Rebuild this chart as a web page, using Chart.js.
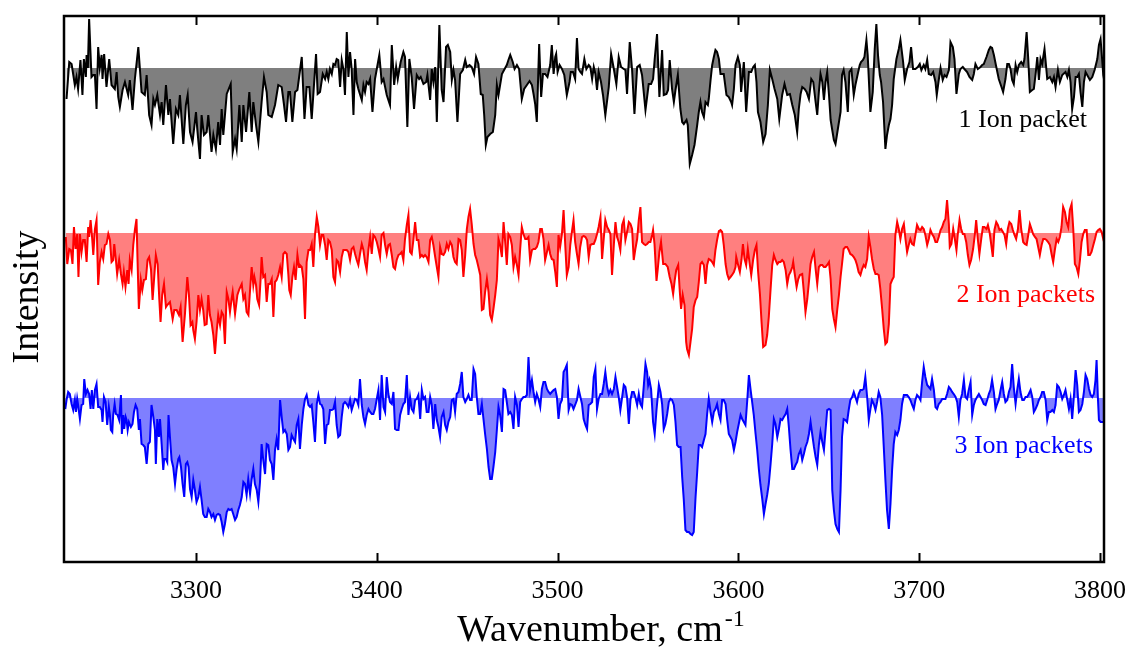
<!DOCTYPE html>
<html>
<head>
<meta charset="utf-8">
<script src="https://cdn.jsdelivr.net/npm/chart.js@4.4.1/dist/chart.umd.min.js"></script>
<style>
html,body{margin:0;padding:0;background:#fff;}
canvas{display:block;}
</style>
</head>
<body>
<canvas id="c" width="1142" height="653"></canvas>
<script>
// ---- data: [wavenumber (cm-1), intensity relative to each trace's own baseline] ----
const black = [
[3228.4,-31],[3229.9,6],[3231.2,4],[3233.0,-17],[3233.9,-9],[3234.8,-21],[3236.1,8],[3237.2,-27],[3238.0,9],[3239.1,-9],[3239.5,13],[3240.2,0],[3240.9,49],[3242.2,-9],[3243.2,-7],[3244.1,-7],[3245.0,-41],[3245.9,21],[3246.8,0],[3247.8,13],[3248.3,-11],[3249.2,14],[3250.5,-19],[3252.0,9],[3253.3,-17],[3255.1,-21],[3256.1,-4],[3257.0,-29],[3257.9,-39],[3259.4,-22],[3260.7,-14],[3262.5,-27],[3263.4,-12],[3264.9,-42],[3266.2,-11],[3268.1,21],[3269.9,-24],[3271.7,-27],[3272.7,-7],[3274.1,-47],[3275.4,-57],[3276.4,-31],[3277.3,-37],[3278.6,-27],[3280.1,-47],[3281.0,-34],[3281.9,-57],[3283.4,-17],[3284.7,-47],[3285.6,-31],[3287.4,-76],[3288.9,-41],[3290.2,-47],[3291.1,-27],[3293.0,-76],[3294.4,-37],[3295.4,-27],[3296.7,-64],[3298.1,-74],[3300.0,-44],[3300.7,-61],[3302.2,-91],[3303.1,-47],[3304.4,-67],[3305.9,-64],[3306.8,-47],[3308.6,-84],[3309.6,-67],[3311.0,-81],[3312.3,-54],[3313.3,-77],[3314.2,-41],[3315.1,-67],[3317.0,-26],[3319.2,-16],[3320.3,-84],[3321.6,-71],[3322.5,-81],[3324.0,-37],[3325.3,-74],[3326.2,-37],[3327.7,-64],[3329.5,-24],[3330.8,-64],[3331.7,-34],[3333.2,-57],[3334.5,-74],[3336.3,-34],[3337.6,-9],[3339.1,-24],[3340.0,-47],[3341.9,-49],[3343.7,-37],[3345.5,-17],[3347.4,-19],[3348.7,-37],[3349.8,-54],[3351.1,-24],[3352.0,-24],[3353.3,-54],[3354.8,-24],[3356.1,-22],[3358.5,11],[3360.0,-51],[3361.2,-19],[3362.7,-19],[3364.0,-51],[3366.4,14],[3367.3,-26],[3368.6,-24],
[3370.1,-6],[3371.4,-11],[3372.3,-4],[3373.2,-11],[3374.1,-1],[3375.1,-6],[3376.0,4],[3376.9,3],[3377.8,9],[3378.7,8],[3379.7,-19],[3380.6,8],[3381.5,-1],[3382.4,-27],[3383.4,36],[3384.3,-9],[3385.2,16],[3386.1,-1],[3387.1,-47],[3388.0,9],[3388.9,-14],[3389.8,-21],[3391.7,-32],[3392.6,-17],[3393.5,-24],[3394.4,-14],[3395.4,-16],[3396.3,-11],[3397.6,-44],[3399.0,-11],[3400.0,-1],[3401.4,13],[3402.7,-14],[3403.7,-11],[3405.5,-27],[3407.3,-37],[3408.3,23],[3409.6,-17],[3410.7,1],[3411.6,-11],[3412.5,-1],[3413.2,6],[3414.7,16],[3415.6,11],[3416.9,-59],[3418.0,9],[3419.3,-9],[3420.6,-41],[3422.1,-7],[3423.4,-11],[3424.3,-9],[3425.8,-16],[3427.3,-14],[3428.0,-7],[3429.5,-32],[3430.4,-1],[3431.3,-14],[3432.3,1],[3433.2,-54],[3434.6,43],[3435.9,-22],[3436.9,-34],[3438.3,21],[3439.3,23],[3440.6,16],[3441.5,-12],[3442.4,-2],[3443.3,-12],[3444.6,-54],[3446.1,-6],[3447.6,-2],[3448.9,8],[3449.8,1],[3451.3,3],[3452.5,1],[3453.8,-6],[3454.9,11],[3456.2,4],[3457.5,-26],[3458.6,-27],[3459.4,-47],[3460.3,-77],[3461.2,-69],[3462.7,-66],[3464.2,-64],[3465.5,-47],[3466.4,-17],[3467.3,-27],[3468.2,-17],[3469.2,-6],[3470.4,-2],[3471.9,3],[3472.8,8],[3473.8,13],[3475.2,6],[3476.2,-1],[3477.5,3],[3478.7,-1],[3480.2,-31],[3481.5,-21],[3483.0,-17],[3484.5,-13],[3485.8,-17],[3486.7,-26],[3487.6,-36],[3488.5,-54],[3489.8,24],[3490.9,-29],[3491.9,-6],[3493.1,-6],[3494.4,-9],[3495.9,3],[3496.8,23],[3497.8,-6],[3498.7,11],[3499.2,14],[3500.0,-4],[3501.1,3],[3502.4,-1],[3503.7,-7],[3505.1,-27],[3506.6,-14],[3507.3,-4],[3508.5,-4],[3509.7,-11],[3510.7,30],[3511.6,-1],
[3512.6,-4],[3513.5,-6],[3514.8,9],[3515.9,-1],[3517.2,3],[3518.1,1],[3519.1,-11],[3520.0,1],[3520.9,-6],[3521.8,-22],[3522.7,-4],[3524.0,-14],[3525.1,-27],[3526.4,-47],[3528.3,-19],[3529.6,14],[3531.1,-1],[3532.5,-16],[3533.8,11],[3535.1,1],[3536.6,-1],[3537.5,-2],[3538.4,-26],[3539.9,26],[3541.2,-2],[3542.5,-46],[3544.0,1],[3545.4,3],[3546.7,-7],[3548.6,-42],[3550.4,-16],[3551.7,-16],[3552.8,-11],[3553.7,9],[3555.0,34],[3556.3,-29],[3557.8,18],[3558.7,-27],[3560.2,-26],[3561.1,-22],[3562.0,8],[3563.3,-21],[3564.3,-34],[3565.2,-22],[3566.5,-7],[3567.9,-41],[3568.9,-54],[3569.8,-56],[3571.3,-52],[3572.0,-57],[3573.1,-96],[3574.4,-87],[3575.7,-77],[3577.2,-57],[3578.1,-44],[3579.0,-34],[3579.9,-44],[3580.9,-49],[3581.8,-34],[3583.1,-37],[3583.6,-31],[3584.6,-12],[3585.5,3],[3586.4,11],[3587.3,18],[3588.2,16],[3589.2,9],[3590.1,-6],[3591.9,-6],[3593.4,-27],[3594.7,-29],[3596.0,-34],[3596.5,-37],[3597.5,-21],[3598.4,3],[3599.7,11],[3600.8,3],[3601.5,-24],[3603.0,6],[3604.3,-44],[3605.8,-4],[3607.1,-4],[3608.2,1],[3609.1,3],[3610.0,-14],[3610.8,-44],[3612.2,-54],[3613.7,-74],[3615.0,-66],[3616.3,-37],[3617.4,-2],[3618.7,-11],[3620.0,-21],[3621.5,-31],[3622.6,-51],[3624.2,-27],[3625.5,-16],[3627.0,-27],[3628.5,-26],[3629.8,-37],[3631.2,-47],[3632.5,-64],[3633.4,-41],[3634.4,-26],[3635.3,-19],[3636.6,-21],[3637.7,-24],[3639.0,-31],[3640.3,-11],[3641.4,-14],[3642.7,-34],[3643.6,-47],[3644.5,-24],[3645.4,-6],[3646.4,-14],[3647.3,-32],[3648.2,-14],[3649.1,-4],[3650.1,-27],[3651.0,-52],[3651.9,-62],[3652.8,-72],[3653.7,-76],[3655.0,-61],[3656.5,-44],
[3657.3,-7],[3658.2,-2],[3659.2,-14],[3660.5,-44],[3661.4,-4],[3662.5,-1],[3663.8,-27],[3664.7,-17],[3666.0,-6],[3667.1,3],[3667.8,6],[3668.9,8],[3669.7,11],[3670.8,28],[3671.5,13],[3673.0,-44],[3674.3,-24],[3675.4,19],[3676.3,44],[3677.2,13],[3678.2,-7],[3678.9,-14],[3680.0,-34],[3681.3,-81],[3682.2,-67],[3683.2,-57],[3684.1,-51],[3685.0,-37],[3685.9,-11],[3687.4,9],[3688.7,19],[3689.6,28],[3691.1,6],[3692.0,-12],[3693.3,-1],[3694.6,6],[3695.5,21],[3696.6,-1],[3697.9,-1],[3699.2,1],[3700.3,4],[3701.2,-2],[3702.5,3],[3703.4,-1],[3704.4,8],[3705.3,-6],[3706.6,-7],[3707.7,-4],[3709.0,-14],[3709.7,-27],[3710.8,-12],[3711.8,0],[3713.0,-12],[3714.0,-7],[3715.1,-9],[3716.4,-2],[3717.3,26],[3718.6,21],[3719.5,9],[3720.6,-26],[3721.9,-6],[3722.8,-1],[3724.1,1],[3725.0,-1],[3726.5,-4],[3727.8,-9],[3729.3,-12],[3730.2,-6],[3731.1,4],[3732.4,-1],[3733.9,1],[3734.8,3],[3735.7,4],[3737.2,11],[3738.5,18],[3739.4,21],[3740.3,20],[3741.3,13],[3742.4,3],[3744.0,-11],[3745.5,-19],[3746.4,-24],[3747.7,-11],[3748.7,4],[3749.6,4],[3750.5,-1],[3751.4,-12],[3752.3,-16],[3753.3,3],[3754.2,-4],[3755.1,3],[3756.4,6],[3757.5,3],[3758.2,9],[3759.4,36],[3760.3,9],[3761.2,-24],[3762.5,-22],[3763.4,-21],[3764.5,-4],[3765.3,11],[3766.2,-12],[3767.1,9],[3768.0,4],[3769.3,19],[3770.8,-11],[3772.3,-9],[3773.6,-14],[3774.5,-9],[3775.4,-19],[3776.7,-2],[3777.8,-14],[3779.1,-7],[3780.9,-4],[3781.9,-9],[3782.8,-2],[3783.7,-14],[3784.6,-41],[3785.6,-29],[3786.5,-9],[3787.4,-9],[3788.3,-6],[3789.2,-24],[3790.2,-39],[3791.1,-14],[3792.0,-4],[3792.9,-7],[3794.4,-12],[3795.7,-9],[3797.0,-2],[3798.5,9],[3799.4,23],[3800.3,29],[3801.2,8],[3801.8,-7],[3802.5,-14]
];

const red = [
[3228.0,-4],[3228.8,-31],[3229.9,-16],[3230.8,-17],[3231.7,-31],[3232.5,6],[3233.4,-16],[3234.3,-1],[3235.0,-44],[3235.8,-1],[3236.7,-19],[3237.6,-7],[3238.5,-7],[3239.5,-29],[3240.4,6],[3240.9,-4],[3241.7,13],[3242.6,-6],[3243.2,-22],[3244.1,4],[3245.0,13],[3245.9,-52],[3246.8,-29],[3247.8,-19],[3248.7,-26],[3249.6,-12],[3250.5,-11],[3251.5,-1],[3252.4,-7],[3253.3,-29],[3254.2,-27],[3254.8,-11],[3255.7,-27],[3256.4,-41],[3257.5,-27],[3258.5,-41],[3259.4,-51],[3260.1,-39],[3261.0,-54],[3262.0,-37],[3262.7,-51],[3263.4,-27],[3264.4,-37],[3265.3,-12],[3266.2,3],[3267.1,14],[3267.7,-29],[3268.4,-76],[3269.5,-47],[3270.3,-57],[3271.2,-47],[3272.3,-46],[3273.2,-27],[3274.1,-24],[3275.1,-36],[3276.0,-67],[3276.9,-44],[3277.8,-22],[3278.8,-31],[3279.7,-66],[3280.4,-89],[3281.3,-62],[3282.3,-51],[3283.4,-74],[3284.1,-72],[3285.6,-69],[3287.1,-86],[3288.0,-77],[3289.3,-77],[3290.6,-82],[3291.5,-74],[3292.6,-109],[3293.9,-81],[3295.2,-44],[3296.1,-62],[3297.0,-92],[3298.0,-89],[3298.5,-97],[3299.4,-106],[3300.3,-89],[3301.3,-62],[3302.2,-77],[3303.1,-66],[3304.0,-77],[3304.8,-92],[3305.9,-91],[3306.8,-62],[3307.7,-82],[3308.6,-89],[3309.6,-102],[3310.5,-121],[3311.4,-99],[3312.3,-82],[3313.3,-92],[3314.2,-79],[3315.1,-82],[3316.0,-111],[3317.0,-59],[3317.9,-66],[3318.8,-79],[3319.7,-66],[3320.3,-59],[3321.6,-81],[3322.9,-62],[3324.0,-56],[3325.3,-51],[3326.2,-66],[3327.1,-62],[3328.0,-79],[3329.0,-82],[3329.9,-57],[3330.8,-34],[3331.7,-52],[3332.3,-44],[3333.2,-52],[3333.9,-66],[3334.9,-72],[3335.8,-44],[3336.3,-24],[3337.2,-44],[3338.2,-42],[3339.1,-69],[3340.0,-51],[3340.9,-51],[3341.9,-46],[3342.8,-84],[3343.7,-49],[3344.6,-47],[3345.5,-42],[3346.5,-34],[3347.4,-44],[3348.3,-21],[3349.2,-19],[3350.2,-21],[3351.1,-42],[3351.6,-57],[3352.4,-62],[3353.3,-44],[3354.2,-34],[3355.1,-47],[3356.1,-22],[3357.0,-34],[3357.5,-32],[3358.5,-34],[3359.4,-46],[3360.3,-86],[3361.2,-29],[3362.2,-17],[3363.1,-17],[3364.0,-11],[3364.9,-34],[3365.8,-2],[3366.8,16],[3367.7,6],[3368.6,-12],
[3369.5,-2],[3370.4,-2],[3371.4,-12],[3372.3,-27],[3373.2,-7],[3374.1,-9],[3375.1,-17],[3376.0,-44],[3376.9,-49],[3377.8,-27],[3378.7,-29],[3379.7,-39],[3380.6,-24],[3381.5,-17],[3382.4,-17],[3383.4,-17],[3384.3,-19],[3385.2,-27],[3386.1,-16],[3387.1,-14],[3388.0,-21],[3388.9,-27],[3389.8,-32],[3390.7,-21],[3391.7,-11],[3392.6,-17],[3393.5,-29],[3394.4,-37],[3395.4,-16],[3396.3,-4],[3397.2,-21],[3398.1,-2],[3399.0,-4],[3400.0,-9],[3400.9,-16],[3401.8,-24],[3402.7,-2],[3403.7,0],[3404.6,-12],[3405.5,-21],[3406.4,-12],[3407.3,-11],[3408.3,-22],[3409.2,-34],[3410.1,-36],[3411.0,-27],[3412.0,-22],[3412.9,-21],[3413.8,-19],[3414.7,-27],[3415.6,-6],[3416.6,8],[3417.5,18],[3418.4,-19],[3419.3,-21],[3420.3,-6],[3421.2,11],[3422.1,-7],[3423.0,-7],[3424.0,-24],[3424.9,-22],[3425.8,-24],[3426.7,-22],[3427.6,-24],[3428.6,-29],[3429.5,-7],[3430.4,-4],[3431.3,-12],[3432.3,-24],[3433.2,-34],[3434.1,-44],[3435.0,-14],[3435.9,-21],[3436.9,-22],[3437.8,-19],[3438.7,-11],[3439.6,-16],[3440.6,-9],[3441.5,-12],[3442.4,-24],[3443.3,-29],[3444.2,-31],[3445.2,-6],[3446.1,-7],[3447.0,-17],[3447.9,-44],[3448.9,-22],[3449.8,4],[3450.7,16],[3451.6,24],[3452.5,9],[3453.5,-11],[3454.4,-22],[3455.3,-27],[3456.2,-34],[3457.2,-42],[3458.1,-77],[3459.0,-76],[3459.9,-59],[3460.9,-46],[3461.8,-59],[3462.7,-82],[3463.6,-87],[3464.5,-76],[3465.5,-62],[3466.4,-47],[3467.3,-6],[3468.2,-12],[3469.2,-24],[3470.1,11],[3471.0,-9],[3471.9,-32],[3472.8,-1],[3473.8,-4],[3474.7,-12],[3475.6,-34],[3476.5,-24],[3477.5,-32],[3478.4,-42],[3479.3,-16],[3480.2,6],[3481.1,-1],[3482.1,-6],[3483.0,-6],[3483.9,-4],[3484.8,-27],[3485.8,-17],[3486.7,-16],[3487.6,-16],[3488.5,-14],[3489.4,-9],[3490.4,4],[3491.3,4],[3492.2,-6],[3493.1,-27],[3494.1,-19],[3495.0,-12],[3495.9,-21],[3496.8,-26],[3497.8,-27],[3498.7,-39],[3499.6,-54],[3500.5,-2],[3501.4,-14],[3502.4,-1],[3503.3,23],[3504.2,-11],[3505.1,-42],[3506.1,-34],[3507.0,-12],[3507.9,1],[3508.8,13],[3509.7,-9],[3510.7,-21],[3511.6,-31],[3512.5,-14],
[3513.5,-4],[3514.4,-3],[3515.4,-4],[3516.3,-7],[3517.2,-24],[3518.1,-12],[3519.1,-11],[3520.0,-11],[3520.9,-7],[3521.8,-1],[3522.7,6],[3523.7,16],[3524.6,-26],[3525.5,-6],[3526.4,13],[3527.4,6],[3528.3,3],[3529.2,-1],[3530.1,-42],[3531.1,-12],[3532.0,11],[3532.9,-4],[3533.8,-9],[3534.7,-17],[3535.7,8],[3536.6,13],[3537.5,-7],[3538.4,1],[3539.4,11],[3540.3,9],[3541.2,4],[3542.1,-27],[3543.0,-16],[3544.0,-6],[3544.9,13],[3545.8,26],[3546.7,-9],[3547.7,-11],[3548.6,-12],[3549.5,-11],[3550.4,-9],[3551.3,-9],[3552.3,-2],[3552.8,3],[3553.6,-11],[3554.7,-48],[3555.4,-36],[3556.3,-19],[3557.2,-9],[3558.4,-31],[3559.6,-31],[3560.9,-34],[3562.0,-44],[3563.0,-51],[3563.9,-61],[3564.8,-47],[3565.6,-37],[3566.7,-32],[3567.6,-59],[3568.3,-76],[3569.2,-62],[3570.2,-72],[3571.1,-109],[3571.6,-116],[3572.6,-122],[3573.5,-109],[3574.4,-96],[3575.3,-74],[3576.3,-67],[3577.2,-64],[3578.1,-49],[3579.0,-31],[3579.9,-29],[3580.9,-32],[3581.8,-51],[3582.7,-32],[3583.6,-26],[3584.6,-27],[3585.5,-29],[3586.4,-32],[3587.3,-17],[3588.2,-7],[3589.2,2],[3590.1,3],[3591.0,1],[3591.9,-12],[3592.9,-31],[3593.8,-41],[3594.7,-46],[3595.6,-44],[3596.5,-42],[3597.5,-39],[3598.4,-34],[3598.8,-24],[3599.7,-31],[3600.8,-39],[3601.7,-27],[3602.5,-11],[3603.4,-26],[3604.3,-32],[3605.2,-16],[3606.1,-29],[3607.1,-42],[3608.2,-26],[3609.1,-17],[3610.0,-12],[3610.9,-39],[3611.9,-61],[3612.8,-89],[3613.7,-114],[3615.0,-112],[3615.9,-102],[3616.8,-84],[3617.8,-56],[3618.7,-32],[3619.6,-22],[3620.5,-27],[3621.5,-31],[3622.4,-29],[3623.3,-29],[3624.2,-27],[3625.1,-29],[3626.1,-37],[3627.0,-51],[3627.9,-42],[3628.8,-39],[3629.8,-34],[3630.3,-29],[3631.0,-39],[3632.2,-54],[3633.1,-46],[3634.0,-42],[3635.3,-41],[3636.2,-59],[3637.1,-79],[3638.1,-66],[3639.0,-49],[3639.9,-31],[3640.8,-24],[3641.8,-19],[3642.7,-36],[3643.6,-51],[3644.5,-34],[3645.4,-32],[3646.4,-32],[3647.3,-34],[3648.2,-34],[3649.1,-32],[3650.1,-29],[3651.0,-46],[3651.9,-76],[3652.8,-86],[3653.7,-94],[3654.7,-76],[3655.6,-62],[3656.5,-44],
[3657.3,-31],[3658.2,-16],[3659.2,-14],[3660.1,-14],[3661.0,-17],[3661.9,-21],[3662.9,-22],[3663.8,-24],[3664.7,-27],[3665.6,-32],[3666.5,-39],[3667.5,-42],[3668.4,-36],[3669.3,-32],[3670.2,-34],[3671.2,-26],[3672.1,-4],[3673.0,-14],[3673.9,-26],[3674.9,-36],[3675.8,-41],[3676.7,-41],[3677.6,-42],[3678.5,-56],[3679.5,-76],[3680.4,-96],[3681.3,-111],[3682.2,-109],[3683.2,-91],[3684.1,-51],[3685.0,-47],[3685.9,-44],[3686.8,-2],[3687.8,11],[3688.7,4],[3689.6,-6],[3690.5,4],[3691.5,9],[3692.4,-6],[3693.3,-19],[3694.2,-12],[3695.1,-6],[3696.1,-11],[3697.0,-12],[3697.9,-2],[3698.8,8],[3699.8,4],[3700.7,3],[3701.6,6],[3702.5,4],[3703.4,-2],[3704.4,-12],[3705.3,-6],[3706.2,3],[3707.1,-1],[3708.1,-4],[3709.0,-9],[3709.9,-9],[3710.8,-4],[3711.8,3],[3712.7,6],[3713.6,11],[3714.5,14],[3715.4,33],[3716.4,9],[3716.9,-14],[3717.8,-11],[3718.8,4],[3719.7,-6],[3720.6,-17],[3721.3,-2],[3722.3,13],[3723.2,4],[3724.1,-1],[3725.0,-1],[3726.0,-9],[3726.9,-22],[3727.8,-32],[3728.7,-27],[3729.8,-16],[3730.8,-1],[3731.5,13],[3732.4,-6],[3733.3,-21],[3734.3,-6],[3735.2,6],[3736.1,6],[3737.2,4],[3738.0,8],[3738.9,1],[3739.8,-11],[3740.7,-24],[3741.6,3],[3742.6,11],[3743.5,8],[3744.4,3],[3745.3,4],[3746.3,1],[3747.2,-2],[3748.1,-11],[3749.0,4],[3749.9,11],[3750.9,9],[3751.8,3],[3752.7,-2],[3753.6,-6],[3754.6,4],[3755.5,23],[3756.4,4],[3757.5,-9],[3758.4,-11],[3759.4,-12],[3760.3,-2],[3761.2,9],[3762.1,4],[3763.0,-1],[3764.0,-4],[3764.9,-6],[3765.8,-14],[3766.7,-22],[3767.7,-12],[3768.6,-6],[3769.5,-6],[3770.4,-7],[3771.3,-9],[3772.3,-12],[3773.2,-21],[3774.1,-29],[3775.0,-17],[3776.0,-6],[3776.9,-9],[3777.8,-4],[3778.7,6],[3779.6,26],[3780.6,21],[3781.5,11],[3782.4,6],[3783.3,23],[3784.3,29],[3785.2,4],[3786.1,-31],[3787.0,-34],[3788.0,-41],[3788.9,-27],[3789.8,-9],[3790.7,-1],[3791.6,3],[3792.6,3],[3793.5,-22],[3794.4,-22],[3795.3,-19],[3796.3,-12],[3797.2,-6],[3798.1,1],[3799.0,3],[3799.9,4],[3800.9,1],[3801.8,-6],[3802.5,-4]
];

const blue = [
[3227.7,-11],[3228.4,-2],[3229.3,6],[3230.2,4],[3231.2,-6],[3232.1,-12],[3233.0,-2],[3233.6,-14],[3234.3,-1],[3234.8,-7],[3235.8,-21],[3236.7,-7],[3237.6,-6],[3238.2,19],[3239.1,4],[3240.0,8],[3240.9,4],[3241.7,-11],[3242.4,8],[3243.2,-11],[3244.1,8],[3245.0,14],[3245.9,-9],[3246.8,-9],[3247.8,-12],[3248.3,-24],[3249.1,1],[3250.0,-4],[3250.9,-27],[3251.8,-9],[3252.4,-17],[3252.9,-32],[3253.7,-34],[3254.2,-17],[3255.0,-6],[3255.7,-16],[3256.6,-17],[3257.5,-22],[3258.5,3],[3259.0,-36],[3259.8,-17],[3260.3,-31],[3261.1,-19],[3261.6,-22],[3262.2,-32],[3262.9,-24],[3264.0,-29],[3264.9,-26],[3265.7,-14],[3266.6,-7],[3267.5,-11],[3268.4,-32],[3269.0,-21],[3269.9,-46],[3270.8,-47],[3271.7,-49],[3272.7,-66],[3273.6,-46],[3274.5,-44],[3275.4,-7],[3276.4,-19],[3277.3,-32],[3277.8,-66],[3278.6,-21],[3279.5,-39],[3280.1,-21],[3281.0,-46],[3281.9,-72],[3282.4,-61],[3283.4,-61],[3284.1,-64],[3284.8,-17],[3285.6,-39],[3286.5,-62],[3287.4,-69],[3288.4,-86],[3289.3,-71],[3290.2,-61],[3290.8,-59],[3291.7,-69],[3292.6,-86],[3293.5,-99],[3294.4,-66],[3295.2,-64],[3295.9,-69],[3296.7,-91],[3297.6,-99],[3298.5,-82],[3299.4,-92],[3300.3,-104],[3301.3,-99],[3302.2,-89],[3303.1,-102],[3304.0,-116],[3304.9,-119],[3305.9,-119],[3306.8,-111],[3307.7,-114],[3308.6,-119],[3309.6,-116],[3310.5,-122],[3311.4,-117],[3312.3,-116],[3313.3,-117],[3314.2,-124],[3315.1,-134],[3316.0,-126],[3317.0,-114],[3317.9,-111],[3318.8,-112],[3319.7,-111],[3320.6,-116],[3321.6,-122],[3322.5,-119],[3323.4,-112],[3324.3,-107],[3325.3,-99],[3326.2,-84],[3327.1,-86],[3328.0,-97],[3328.9,-81],[3329.9,-96],[3330.8,-81],[3331.7,-71],[3332.6,-86],[3333.6,-92],[3334.5,-104],[3335.4,-84],[3336.3,-46],[3337.2,-62],[3338.2,-76],[3339.1,-46],[3340.0,-47],[3340.9,-62],[3341.9,-66],[3342.8,-82],[3343.7,-52],[3344.6,-41],[3345.5,-52],[3346.5,-2],[3347.4,-19],[3348.3,-34],[3349.2,-32],[3350.2,-36],[3351.1,-52],[3352.0,-49],[3352.9,-37],[3353.9,-41],[3354.8,-44],[3355.7,-27],[3356.6,-21],[3357.5,-51],[3358.5,-27],[3359.4,-11],[3360.3,-1],[3361.2,3],[3362.2,-7],[3363.1,-9],[3364.0,-7],[3364.9,-24],[3365.8,-44],[3366.8,-6],[3367.7,3],[3368.6,-6],
[3369.5,-7],[3370.4,-11],[3371.4,-46],[3372.3,-27],[3373.2,-26],[3374.1,-12],[3375.1,-12],[3376.0,-11],[3376.9,-4],[3377.8,-27],[3378.7,-39],[3379.7,-37],[3380.6,-19],[3381.5,-6],[3382.4,-4],[3383.4,-6],[3384.3,-9],[3385.2,-2],[3386.1,-12],[3387.1,-6],[3388.0,-1],[3388.9,-2],[3389.8,-7],[3390.7,19],[3391.7,-7],[3392.6,-19],[3393.5,-26],[3394.4,-17],[3395.4,-11],[3396.3,-14],[3397.2,-16],[3398.1,-16],[3399.0,-11],[3400.0,-1],[3400.9,8],[3401.8,-22],[3402.7,23],[3403.7,-9],[3404.6,-14],[3405.5,21],[3406.4,4],[3407.3,-4],[3408.3,-6],[3409.2,6],[3410.1,-31],[3411.0,-32],[3412.0,-32],[3412.9,-17],[3413.8,-11],[3414.7,-6],[3415.6,-4],[3416.6,23],[3417.5,-17],[3418.4,1],[3419.3,-11],[3420.3,-14],[3421.2,-2],[3422.1,-1],[3423.0,3],[3424.0,-21],[3424.9,8],[3425.8,-1],[3426.7,1],[3427.6,-14],[3428.6,-14],[3429.5,1],[3430.4,-7],[3431.3,-31],[3432.3,-6],[3433.2,-22],[3434.1,-29],[3435.0,-39],[3435.9,-19],[3436.9,-14],[3437.8,-27],[3438.7,-32],[3439.6,-24],[3440.6,-19],[3441.5,-2],[3442.4,-1],[3443.3,-14],[3444.2,4],[3445.2,6],[3446.1,14],[3447.0,26],[3447.9,1],[3448.9,-4],[3449.8,-1],[3450.7,3],[3451.6,-2],[3452.5,-2],[3453.5,29],[3454.4,24],[3455.3,1],[3456.2,-16],[3457.2,-16],[3458.1,-6],[3459.0,-21],[3459.9,-36],[3460.9,-51],[3461.8,-69],[3462.7,-81],[3463.6,-81],[3464.5,-69],[3465.5,-54],[3466.4,-32],[3467.3,-9],[3468.2,-17],[3469.2,-34],[3470.1,9],[3471.0,8],[3471.9,-4],[3472.8,-16],[3473.8,-14],[3474.7,-17],[3475.6,-31],[3476.5,1],[3477.5,-7],[3478.4,-29],[3479.3,-4],[3480.2,-1],[3481.1,1],[3482.1,1],[3483.0,3],[3483.9,41],[3484.8,8],[3485.8,18],[3486.7,6],[3487.6,-4],[3488.5,4],[3489.4,-1],[3490.4,-9],[3491.3,9],[3492.2,16],[3493.1,16],[3494.1,9],[3495.0,6],[3495.9,4],[3496.8,6],[3497.8,8],[3498.7,9],[3499.6,1],[3500.5,-21],[3501.4,-6],[3502.4,-2],[3503.3,26],[3504.2,29],[3505.1,33],[3506.1,-12],[3507.0,-6],[3507.9,-7],[3508.8,-11],[3509.7,-7],[3510.7,-2],[3511.6,9],
[3513.5,-6],[3514.4,-21],[3515.4,-27],[3516.3,-31],[3517.2,-7],[3518.1,-6],[3519.1,-4],[3520.0,21],[3520.9,29],[3521.8,-11],[3522.7,-1],[3523.7,4],[3524.6,4],[3525.5,14],[3526.4,26],[3527.4,11],[3528.3,4],[3529.2,8],[3530.1,4],[3531.1,9],[3532.0,21],[3532.9,11],[3533.8,1],[3534.7,-12],[3535.7,1],[3536.6,13],[3537.5,11],[3538.4,1],[3539.4,-26],[3540.3,-2],[3541.2,6],[3542.1,6],[3543.0,1],[3544.0,-7],[3544.9,4],[3545.8,-6],[3546.7,-9],[3547.7,13],[3548.6,34],[3549.5,26],[3550.1,13],[3550.8,18],[3551.7,9],[3552.8,-24],[3553.7,-36],[3554.7,-12],[3556.0,13],[3556.9,6],[3557.8,-6],[3558.7,-31],[3559.6,-26],[3560.6,-16],[3561.5,-4],[3562.4,-1],[3563.3,-2],[3564.3,-7],[3565.2,-24],[3566.1,-47],[3567.0,-49],[3568.0,-49],[3568.9,-79],[3569.8,-102],[3570.7,-132],[3571.6,-134],[3572.6,-134],[3573.5,-136],[3574.4,-137],[3575.3,-134],[3576.3,-99],[3577.2,-74],[3578.1,-47],[3579.0,-47],[3579.9,-49],[3580.9,-42],[3581.8,-36],[3582.7,-16],[3583.6,-1],[3584.6,-14],[3585.5,-24],[3586.4,-14],[3587.3,-11],[3588.2,-6],[3589.2,-16],[3590.1,-22],[3591.0,-2],[3591.9,-2],[3592.9,-6],[3593.8,-22],[3594.7,-36],[3595.6,-39],[3596.5,-42],[3597.5,-52],[3598.4,-44],[3599.3,-34],[3600.2,-26],[3601.2,-17],[3602.1,-21],[3603.0,-24],[3603.9,-27],[3604.9,-2],[3605.8,23],[3606.7,9],[3607.6,-4],[3608.5,-17],[3609.5,-36],[3610.4,-52],[3611.3,-71],[3612.2,-87],[3613.2,-101],[3614.1,-116],[3615.0,-106],[3615.9,-97],[3616.8,-86],[3617.8,-66],[3618.7,-46],[3619.6,-21],[3620.5,-26],[3621.5,-39],[3622.4,-31],[3623.3,-21],[3624.2,-22],[3625.1,-19],[3626.1,-16],[3627.0,-11],[3627.9,-29],[3628.8,-51],[3629.8,-71],[3630.7,-71],[3631.6,-67],[3632.5,-64],[3633.4,-56],[3634.4,-52],[3635.3,-62],[3636.2,-56],[3637.1,-49],[3638.1,-44],[3639.0,-36],[3639.9,-24],[3640.8,-36],[3641.8,-49],[3642.7,-59],[3643.6,-67],[3644.5,-47],[3645.4,-34],[3646.4,-44],[3647.3,-52],[3648.2,-32],[3649.1,-12],[3650.1,-11],[3651.0,-12],[3651.9,-92],[3652.8,-112],[3653.7,-126],[3654.7,-131],[3655.6,-134],[3656.5,-92],
[3657.3,-39],[3658.2,-21],[3659.2,-22],[3660.1,-24],[3661.0,-12],[3661.9,-2],[3662.9,1],[3663.8,6],[3664.7,1],[3665.6,-4],[3666.5,4],[3667.5,8],[3668.4,8],[3669.3,9],[3670.2,21],[3671.2,1],[3672.1,-22],[3673.0,-11],[3673.9,-2],[3674.9,-6],[3675.8,-12],[3676.7,-4],[3677.6,6],[3678.5,1],[3679.5,-17],[3680.4,-49],[3681.3,-82],[3682.2,-112],[3683.2,-131],[3684.1,-106],[3685.0,-72],[3685.9,-46],[3686.8,-34],[3687.8,-37],[3688.7,-32],[3689.6,-22],[3690.5,-6],[3691.5,3],[3692.4,3],[3693.3,3],[3694.2,1],[3695.1,-2],[3696.1,-7],[3697.0,-11],[3697.9,-2],[3698.8,3],[3699.8,1],[3700.7,-2],[3701.6,16],[3702.5,31],[3703.4,21],[3704.4,13],[3705.3,11],[3706.2,9],[3707.1,19],[3708.1,8],[3709.0,-9],[3709.9,-11],[3710.8,-6],[3711.8,-4],[3712.7,-1],[3713.6,-1],[3714.5,-1],[3715.4,4],[3716.4,11],[3717.3,9],[3718.2,6],[3719.1,4],[3720.1,1],[3721.0,-4],[3721.9,-19],[3722.8,-2],[3723.7,4],[3724.7,18],[3725.6,1],[3726.5,-1],[3727.4,8],[3728.4,16],[3729.3,-17],[3730.2,-7],[3731.1,-2],[3732.0,1],[3733.0,4],[3733.9,1],[3734.8,-2],[3735.7,-6],[3736.7,-7],[3737.6,-2],[3738.5,4],[3739.4,8],[3740.3,18],[3741.3,6],[3742.2,-11],[3743.1,-6],[3744.0,-2],[3745.0,8],[3745.9,16],[3746.8,4],[3747.7,-4],[3748.7,-2],[3749.6,6],[3750.5,11],[3751.4,34],[3752.3,11],[3753.3,-6],[3754.2,8],[3755.1,19],[3756.0,6],[3757.0,-2],[3757.9,-2],[3758.8,1],[3759.7,1],[3760.6,4],[3761.6,8],[3762.5,1],[3763.4,-14],[3764.3,-11],[3765.3,-7],[3766.2,-2],[3767.1,1],[3768.0,6],[3768.9,6],[3769.9,-2],[3770.8,-22],[3771.7,-14],[3772.6,-14],[3773.6,-12],[3774.5,-14],[3775.4,-7],[3776.3,13],[3777.2,11],[3778.2,6],[3779.1,-1],[3780.0,3],[3780.9,8],[3781.9,-2],[3782.8,-11],[3783.7,-1],[3784.6,-21],[3785.6,3],[3786.5,28],[3787.4,13],[3788.3,-14],[3789.2,-12],[3790.2,-6],[3791.1,6],[3792.0,23],[3792.9,19],[3793.9,9],[3794.8,3],[3795.7,1],[3796.6,4],[3797.5,18],[3798.1,38],[3798.8,1],[3799.4,-22],[3800.3,-24],[3801.2,-24],[3802.2,-24]
];

const seriesNames = ['1 Ion packet', '2 Ion packets', '3 Ion packets'];
const tickValues = [3300, 3400, 3500, 3600, 3700, 3800];
const xTitle = 'Wavenumber, cm';
const xTitleSup = '-1';
const yTitle = 'Intensity';
const xRange = [3227, 3802.2];
const yRange = [-164, 382];
const offsets = [330, 165, 0];   // vertical stacking of the three traces

const lineColors = ['#000000', '#ff0000', '#0000ff'];
const fillColors = ['rgba(0,0,0,0.5)', 'rgba(255,0,0,0.5)', 'rgba(0,0,255,0.5)'];

const SERIF = '"Liberation Serif", "Times New Roman", Times, serif';
Chart.defaults.font.family = SERIF;
Chart.defaults.color = '#000';

const datasets = [black, red, blue].map((s, i) => ({
  label: seriesNames[i],
  data: s.map(p => ({ x: p[0], y: p[1] + offsets[i] })),
  borderColor: lineColors[i],
  backgroundColor: fillColors[i],
  borderWidth: 2,
  pointRadius: 0,
  tension: 0,
  fill: { value: offsets[i] }
}));

const framePlugin = {
  id: 'frame',
  afterDatasetsDraw(chart) {
    const { ctx, chartArea: a, scales: { x } } = chart;
    ctx.save();
    ctx.strokeStyle = '#000';
    ctx.lineWidth = 2.5;
    ctx.strokeRect(a.left, a.top, a.right - a.left, a.bottom - a.top);
    ctx.lineWidth = 2;
    ctx.beginPath();
    tickValues.forEach(v => {
      const px = Math.round(x.getPixelForValue(v)) + 0.5;
      ctx.moveTo(px, a.top); ctx.lineTo(px, a.top + 9);
      ctx.moveTo(px, a.bottom); ctx.lineTo(px, a.bottom - 9);
    });
    ctx.stroke();
    // trace labels
    ctx.font = '26px ' + SERIF;
    ctx.textAlign = 'right';
    ctx.textBaseline = 'alphabetic';
    const pos = [[1087, 127], [1095, 302], [1093, 453]];
    seriesNames.forEach((n, i) => {
      ctx.fillStyle = lineColors[i];
      ctx.fillText(n, pos[i][0], pos[i][1]);
    });
    // axis titles
    ctx.fillStyle = '#000';
    ctx.textAlign = 'left';
    ctx.font = '38px ' + SERIF;
    const w1 = ctx.measureText(xTitle).width;
    ctx.font = '24px ' + SERIF;
    const w2 = ctx.measureText(xTitleSup).width;
    const x0 = 601 - (w1 + w2 + 2) / 2;
    ctx.font = '38px ' + SERIF;
    ctx.fillText(xTitle, x0, 641);
    ctx.font = '24px ' + SERIF;
    ctx.fillText(xTitleSup, x0 + w1 + 2, 626);
    ctx.save();
    ctx.translate(38, 297);
    ctx.rotate(-Math.PI / 2);
    ctx.textAlign = 'center';
    ctx.font = '38px ' + SERIF;
    ctx.fillText(yTitle, 0, 0);
    ctx.restore();
    ctx.restore();
  }
};

new Chart(document.getElementById('c'), {
  type: 'line',
  data: { datasets },
  plugins: [framePlugin],
  options: {
    responsive: false,
    animation: false,
    devicePixelRatio: 1,
    layout: { padding: { top: 16, right: 38, left: 0, bottom: 0 } },
    plugins: { legend: { display: false }, tooltip: { enabled: false } },
    scales: {
      x: {
        type: 'linear',
        min: xRange[0], max: xRange[1],
        afterBuildTicks: s => { s.ticks = tickValues.map(v => ({ value: v })); },
        afterFit: s => { s.height = 91; },
        grid: { display: false, drawTicks: false },
        border: { display: false },
        ticks: { font: { size: 26 }, padding: 14, maxRotation: 0, color: '#000', callback: v => String(v) },
        title: { display: false }
      },
      y: {
        type: 'linear',
        min: yRange[0], max: yRange[1],
        afterFit: s => { s.width = 64; },
        grid: { display: false, drawTicks: false },
        border: { display: false },
        ticks: { display: false },
        title: { display: false }
      }
    }
  }
});
</script>
</body>
</html>
